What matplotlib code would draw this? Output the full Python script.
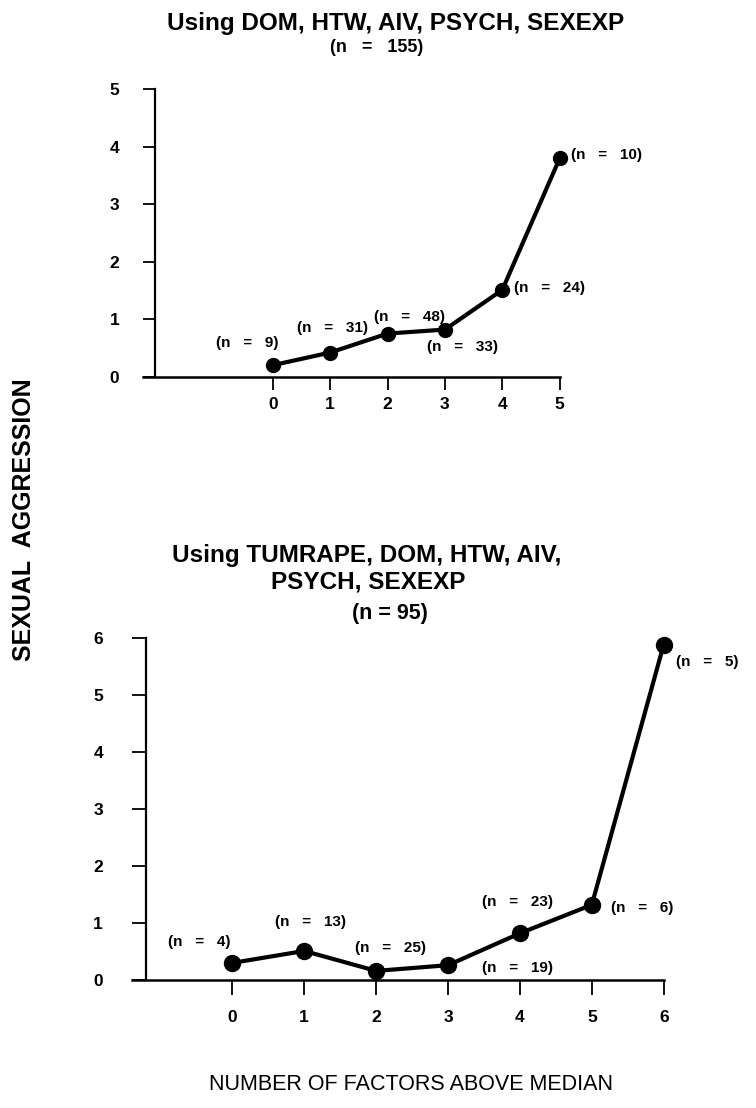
import matplotlib
import matplotlib.pyplot as plt

matplotlib.use('Agg')

plt.rcParams['font.family'] = ['Liberation Sans', 'DejaVu Sans']
plt.rcParams['font.weight'] = 'bold'

# upper panel: DOM, HTW, AIV, PSYCH, SEXEXP
top_factors = [0, 1, 2, 3, 4, 5]
top_scores = [0.20, 0.42, 0.75, 0.82, 1.51, 3.80]
top_counts = [9, 31, 48, 33, 24, 10]

# lower panel: TUMRAPE added
bot_factors = [0, 1, 2, 3, 4, 5, 6]
bot_scores = [0.30, 0.51, 0.16, 0.26, 0.82, 1.32, 5.89]
bot_counts = [4, 13, 25, 19, 23, 6, 5]

# placement of each "(n = ...)" relative to its dot (points, alignment)
top_offsets = [(-18.1, 16.0, 'center'), (1.7, 17.6, 'center'), (15.8, 12.2, 'center'),
               (13.0, -12.4, 'center'), (8.4, 1.2, 'left'), (8.4, 2.4, 'left')]
bot_offsets = [(-24.0, 15.3, 'center'), (4.5, 21.0, 'center'), (10.7, 16.3, 'center'),
               (50.3, -2.2, 'center'), (-1.4, 22.8, 'center'), (13.6, -2.5, 'left'),
               (8.5, -12.5, 'left')]

W, H = 756, 1108


def px(x, y):
    # pixel position (from top left) to figure fraction
    return x / W, 1 - y / H


def draw_panel(ax, factors, scores, counts, offsets, spine_x, xlim, ymax,
               marker_size, tick_len, xpad, ypad):
    ax.plot(factors, scores, color='black', lw=3, marker='o',
            markersize=marker_size, clip_on=False, zorder=3)
    for x, y, n, (dx, dy, ha) in zip(factors, scores, counts, offsets):
        ax.annotate(f'(n   =   {n})', (x, y), xytext=(dx, dy),
                    textcoords='offset points', ha=ha, va='center',
                    fontsize=11, fontweight='bold')

    ax.set_xlim(*xlim)
    ax.set_ylim(0, ymax)
    ax.set_xticks(factors)
    ax.set_yticks(range(ymax + 1))
    for side in ('top', 'right'):
        ax.spines[side].set_visible(False)
    ax.spines['left'].set_position(('data', spine_x))
    ax.spines['left'].set_linewidth(1.6)
    ax.spines['bottom'].set_linewidth(1.8)
    ax.tick_params(axis='x', direction='out', length=tick_len[0], width=1.3,
                   pad=xpad, labelsize=12.5)
    ax.tick_params(axis='y', direction='out', length=tick_len[1], width=1.3,
                   pad=ypad, labelsize=12.5)
    ax.patch.set_alpha(0)


fig = plt.figure(figsize=(W / 100, H / 100), dpi=100)

# upper panel
l, b = px(143, 376.7)
ax1 = fig.add_axes([l, b, 416.7 / W, 287.4 / H])
draw_panel(ax1, top_factors, top_scores, top_counts, top_offsets,
           spine_x=-2.05, xlim=(-2.26, 5), ymax=5, marker_size=10,
           tick_len=(9.5, 8.6), xpad=5, ypad=17)

# lower panel
l, b = px(131.7, 980)
ax2 = fig.add_axes([l, b, 532 / W, 341.7 / H])
draw_panel(ax2, bot_factors, bot_scores, bot_counts, bot_offsets,
           spine_x=-1.20, xlim=(-1.40, 6), ymax=6, marker_size=11.5,
           tick_len=(10.8, 10), xpad=11, ypad=21)

# titles
fig.text(*px(395.5, 30), 'Using DOM, HTW, AIV, PSYCH, SEXEXP',
         ha='center', va='baseline', fontsize=17.5, fontweight='bold')
fig.text(*px(376.5, 52), '(n   =   155)',
         ha='center', va='baseline', fontsize=13, fontweight='bold')
fig.text(*px(367, 562), 'Using TUMRAPE, DOM, HTW, AIV,',
         ha='center', va='baseline', fontsize=17.5, fontweight='bold')
fig.text(*px(368, 588), 'PSYCH, SEXEXP',
         ha='center', va='baseline', fontsize=17.5, fontweight='bold')
fig.text(*px(390, 619), '(n = 95)',
         ha='center', va='baseline', fontsize=15.5, fontweight='bold')

# shared axis labels
fig.text(*px(24, 520), 'SEXUAL  AGGRESSION', rotation=90,
         ha='center', va='center', fontsize=18, fontweight='bold')
fig.text(*px(411, 1090), 'NUMBER OF FACTORS ABOVE MEDIAN',
         ha='center', va='baseline', fontsize=15.5, fontweight='normal')

fig.savefig('out.png', dpi=100, facecolor='white')
